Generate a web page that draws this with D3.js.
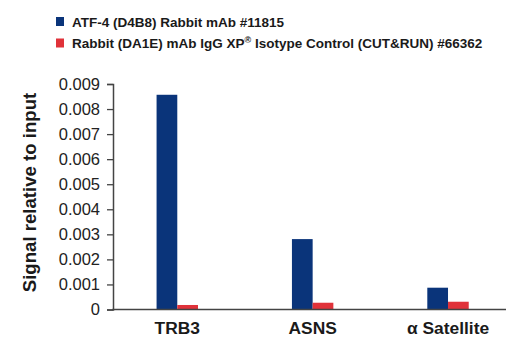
<!DOCTYPE html>
<html>
<head>
<meta charset="utf-8">
<script src="https://cdn.jsdelivr.net/npm/d3@7"></script>
<style>
  html, body { margin: 0; padding: 0; background: #fff; }
  svg { display: block; font-family: "Liberation Sans", Arial, Helvetica, sans-serif; }
</style>
</head>
<body>
<svg id="chart" width="520" height="350"></svg>
<script>
const categories = ["TRB3", "ASNS", "α Satellite"];
const seriesNames = ["ATF-4 (D4B8) Rabbit mAb #11815", "Rabbit (DA1E) mAb IgG XP® Isotype Control (CUT&RUN) #66362"];
const atf4Values = [0.00857, 0.00281, 0.00087];
const iggValues = [0.00018, 0.00027, 0.00031];
const yTicks = [0, 0.001, 0.002, 0.003, 0.004, 0.005, 0.006, 0.007, 0.008, 0.009];
const colors = ["#0a347a", "#e0323a"];

const svg = d3.select("#chart");
const axisColor = "#444";

const y = d3.scaleLinear().domain([0, 0.009]).range([309.5, 84]);
const x0 = d3.scaleBand().domain(categories).range([109.6, 515.7]).paddingInner(0.694).paddingOuter(0.347);
const x1 = d3.scaleBand().domain([0, 1]).range([0, x0.bandwidth()]);

const data = categories.map((c, i) => ({ cat: c, vals: [atf4Values[i], iggValues[i]] }));

// bars
const g = svg.append("g");
data.forEach(d => {
  d.vals.forEach((v, si) => {
    g.append("rect")
      .attr("x", x0(d.cat) + x1(si))
      .attr("y", y(v))
      .attr("width", x1.bandwidth())
      .attr("height", y(0) - y(v))
      .attr("fill", colors[si]);
  });
});

// y axis
const yAxis = d3.axisLeft(y).tickValues(yTicks).tickSize(6).tickPadding(7)
  .tickFormat(d => d === 0 ? "0" : d3.format(".3f")(d));
const ya = svg.append("g").attr("transform", "translate(113,0)").call(yAxis);
ya.select(".domain").attr("stroke", axisColor).attr("stroke-width", 1.5);
ya.selectAll(".tick line").attr("stroke", axisColor).attr("stroke-width", 1.3);
ya.selectAll(".tick text").attr("fill", "#222").style("font-size", "16.5px")
  .style("font-family", "'Liberation Sans', Arial, sans-serif");

// x axis line
svg.append("line").attr("x1", 112.3).attr("x2", 506).attr("y1", y(0)).attr("y2", y(0))
  .attr("stroke", axisColor).attr("stroke-width", 1.5);

// category labels
svg.append("g").selectAll("text").data(categories).join("text")
  .attr("x", d => x0(d) + x0.bandwidth() / 2)
  .attr("y", 334)
  .attr("text-anchor", "middle")
  .attr("fill", "#1a1a1a")
  .style("font-size", "17.4px").style("font-weight", "bold")
  .text(d => d);

// y label
svg.append("text")
  .attr("transform", "translate(36,192.5) rotate(-90)")
  .attr("text-anchor", "middle")
  .attr("fill", "#1a1a1a")
  .style("font-size", "18.6px").style("font-weight", "bold")
  .text("Signal relative to input");

// legend
const legendRows = [26.5, 48];
seriesNames.forEach((name, i) => {
  svg.append("rect").attr("x", 56).attr("y", legendRows[i] - 9.5).attr("width", 8).attr("height", 9)
    .attr("fill", colors[i]);
  const t = svg.append("text").attr("x", 72).attr("y", legendRows[i])
    .attr("fill", "#1a1a1a").style("font-size", "13.5px").style("font-weight", "bold");
  const parts = name.split("®");
  t.append("tspan").text(parts[0]);
  if (parts.length > 1) {
    t.append("tspan").attr("dy", -5).style("font-size", "9px").text("®");
    t.append("tspan").attr("dy", 5).text(parts[1]);
  }
});
</script>
</body>
</html>
